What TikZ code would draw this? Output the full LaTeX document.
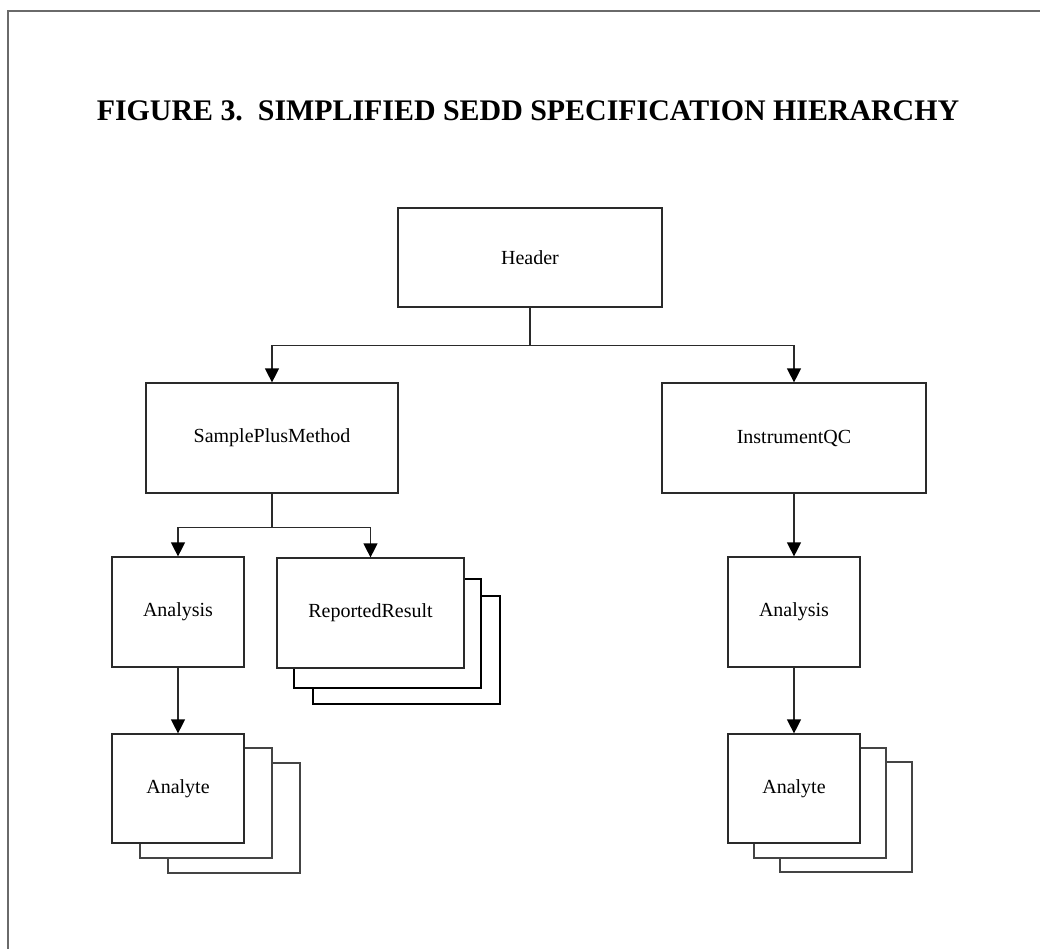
\documentclass[tikz,border=0pt]{standalone}
\usepackage{fontspec}
\setmainfont{Liberation Serif}
\usetikzlibrary{arrows.meta}
\definecolor{framegray}{HTML}{6A6A6A}
\definecolor{boxline}{HTML}{2A2A2A}
\definecolor{layerline}{HTML}{444444}
\begin{document}
\begin{tikzpicture}[x=1pt,y=-1pt,
  box/.style={draw=boxline,line width=1.2pt,fill=white,inner sep=0pt,
    font=\fontsize{20}{22}\selectfont},
  layer/.style={draw=layerline,line width=1.1pt,fill=white},
  heavylayer/.style={draw=black,line width=2pt,fill=white},
  link/.style={draw=boxline,line width=1.2pt},
  arr/.style={link,-{Triangle[length=14pt,width=14pt,color=black]}}]
\useasboundingbox (0,0) rectangle (1040,949);

% page frame
\draw[framegray,line width=1.4pt] (8,949) -- (8,11) -- (1040,11);

% title
\node[font=\fontsize{29.9}{32}\selectfont\bfseries] (title) at (528,111)
  {FIGURE 3.\ \ SIMPLIFIED SEDD SPECIFICATION HIERARCHY};

% top level
\node[box,minimum width=264pt,minimum height=99pt] (hdr) at (530,257.5) {Header};

% second level
\node[box,minimum width=252pt,minimum height=110pt] (spm) at (272,438) {SamplePlusMethod};
\node[box,minimum width=264pt,minimum height=110pt] (iqc) at (794,438) {InstrumentQC};

% repeated ReportedResult records
\draw[heavylayer] (313,596) rectangle (500,704);
\draw[heavylayer] (294,579) rectangle (481,688);
\node[box,minimum width=187pt,minimum height=110pt] (rr) at (370.5,613) {ReportedResult};

% analysis nodes
\node[box,minimum width=132pt,minimum height=110pt] (anl) at (178,612) {Analysis};
\node[box,minimum width=132pt,minimum height=110pt] (anr) at (794,612) {Analysis};

% repeated Analyte records, left
\draw[layer] (168,763) rectangle (300,873);
\draw[layer] (140,748) rectangle (272,858);
\node[box,minimum width=132pt,minimum height=109pt] (atl) at (178,788.5) {Analyte};

% repeated Analyte records, right
\draw[layer] (780,762) rectangle (912,872);
\draw[layer] (754,748) rectangle (886,858);
\node[box,minimum width=132pt,minimum height=109pt] (atr) at (794,788.5) {Analyte};

% connectors
\draw[link] (hdr.south) -- ++(0,38) coordinate (hj);
\draw[arr] (hj) -| (spm.north);
\draw[arr] (hj) -| (iqc.north);

\draw[link] (spm.south) -- ++(0,34) coordinate (sj);
\draw[arr] (sj) -| (anl.north);
\draw[arr] (sj) -| (rr.north);

\draw[arr] (iqc.south) -- (anr.north);
\draw[arr] (anl.south) -- (atl.north);
\draw[arr] (anr.south) -- (atr.north);
\end{tikzpicture}
\end{document}
